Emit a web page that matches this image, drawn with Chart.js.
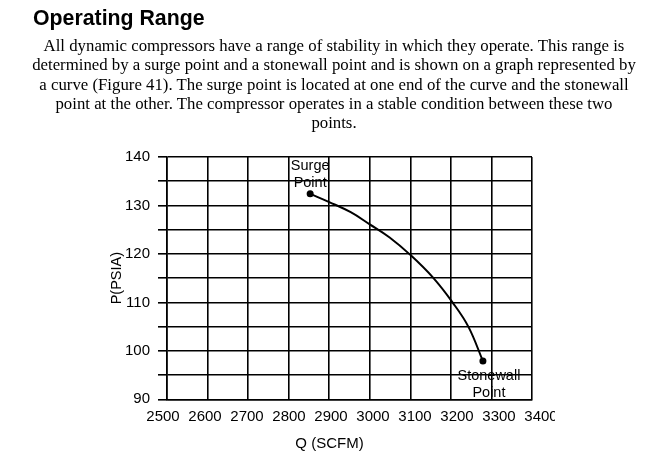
<!DOCTYPE html>
<html><head><meta charset="utf-8">
<script src="https://cdn.jsdelivr.net/npm/chart.js@4.4.0/dist/chart.umd.min.js"></script>
<style>
html,body{margin:0;padding:0;background:#fff;width:657px;height:459px;overflow:hidden;}
#wrap{position:absolute;left:0;top:0;width:555px;height:459px;overflow:hidden;}
#title{position:absolute;left:33px;top:8px;font:bold 21.3px "Liberation Sans",Arial,sans-serif;line-height:21px;color:#000;white-space:nowrap;}
#para{position:absolute;left:0;width:668px;top:36px;text-align:center;font:16.8px "Liberation Serif","Times New Roman",serif;line-height:19.3px;color:#000;white-space:nowrap;}
#xtitle{position:absolute;left:229.5px;width:200px;top:435.2px;text-align:center;font:15px "Liberation Sans",Arial,sans-serif;line-height:15px;color:#000;white-space:nowrap;}
</style></head>
<body>
<div id="wrap"><canvas id="c" width="657" height="459" style="width:657px;height:459px"></canvas></div>
<div id="title">Operating Range</div>
<div id="para">All dynamic compressors have a range of stability in which they operate. This range is<br>determined by a surge point and a stonewall point and is shown on a graph represented by<br>a curve (Figure 41). The surge point is located at one end of the curve and the stonewall<br>point at the other. The compressor operates in a stable condition between these two<br>points.</div>
<div id="xtitle"></div>
<script>
const qValues = [2853, 2900, 2953, 3000, 3049, 3100, 3155, 3204, 3243, 3279];
const pValues = [132.4, 130.7, 128.6, 126.1, 123.4, 119.8, 115.2, 110.0, 105.0, 97.9];
const xMin = 2500, xMax = 3400, xStep = 100;
const xTickLabels = ['2500', '2600', '2700', '2800', '2900', '3000', '3100', '3200', '3300', '3400'];
// the printed Q labels are spread a little wider than the grid: label scale range
const xLabelMin = 2509.5, xLabelMax = 3378.6;
const yMin = 90, yMax = 140, yStep = 5, yLabelStep = 10;
const xTitle = 'Q (SCFM)';
const yTitle = 'P(PSIA)';
const surgeLabel = ['Surge', 'Point'];
const stonewallLabel = ['Stonewall', 'Point'];

document.getElementById('xtitle').textContent = xTitle;

const points = qValues.map((q, i) => ({x: q, y: pValues[i]}));
const radii = qValues.map((q, i) => (i === 0 || i === qValues.length - 1) ? 3.5 : 0);
const font15 = {family: '"Liberation Sans", Arial, sans-serif', size: 15};

const labelPlugin = {
  id: 'pointLabels',
  afterDatasetsDraw(chart) {
    const ctx = chart.ctx;
    const xs = chart.scales.x, ys = chart.scales.y;
    ctx.save();
    ctx.font = '14.5px "Liberation Sans", Arial, sans-serif';
    ctx.fillStyle = '#000';
    ctx.textAlign = 'center';
    ctx.textBaseline = 'alphabetic';
    const first = points[0], last = points[points.length - 1];
    let px = xs.getPixelForValue(first.x), py = ys.getPixelForValue(first.y);
    ctx.fillText(surgeLabel[0], px, py - 24.3);
    ctx.fillText(surgeLabel[1], px, py - 6.6);
    px = xs.getPixelForValue(last.x); py = ys.getPixelForValue(last.y);
    ctx.fillText(stonewallLabel[0], px + 6, py + 19);
    ctx.fillText(stonewallLabel[1], px + 6, py + 35.6);
    ctx.restore();
  }
};

new Chart(document.getElementById('c'), {
  type: 'scatter',
  data: {
    datasets: [{
      data: points,
      showLine: true,
      tension: 0.4,
      borderColor: '#000',
      borderWidth: 2,
      pointRadius: radii,
      pointBackgroundColor: '#000',
      pointBorderColor: '#000',
      pointBorderWidth: 0
    }]
  },
  options: {
    responsive: false,
    animation: false,
    events: [],
    layout: {padding: {left: 100, top: 157, right: 125, bottom: 0}},
    plugins: {legend: {display: false}, tooltip: {enabled: false}},
    scales: {
      x: {
        type: 'linear', min: xMin, max: xMax,
        afterFit(s) { s.height = 0; },
        ticks: {stepSize: xStep, display: false},
        grid: {color: '#000', lineWidth: 1.6, drawTicks: false},
        border: {display: true, color: '#000', width: 1.6}
      },
      xl: {
        type: 'linear', position: 'bottom', axis: 'x', min: xLabelMin, max: xLabelMax,
        afterBuildTicks(s) { s.ticks = xTickLabels.map(t => ({value: Number(t)})); },
        afterFit(s) { s.height = 59.7; },
        ticks: {color: '#000', padding: 8.5, maxRotation: 0, autoSkip: false,
          callback: v => String(v), font: font15},
        grid: {display: false, drawTicks: false},
        border: {display: false}
      },
      y: {
        type: 'linear', min: yMin, max: yMax,
        afterFit(s) { s.width = 67; },
        ticks: {stepSize: yStep, color: '#000', padding: 8,
          callback: v => (v % yLabelStep === 0 ? String(v) : ''),
          font: font15},
        grid: {color: '#000', lineWidth: 1.6, tickLength: 9, tickColor: '#000'},
        border: {display: true, color: '#000', width: 1.6},
        title: {display: true, text: yTitle, color: '#000', padding: {top: 8.6, bottom: 0},
          font: {family: '"Liberation Sans", Arial, sans-serif', size: 14.5}}
      }
    }
  },
  plugins: [labelPlugin]
});
</script>
</body></html>
